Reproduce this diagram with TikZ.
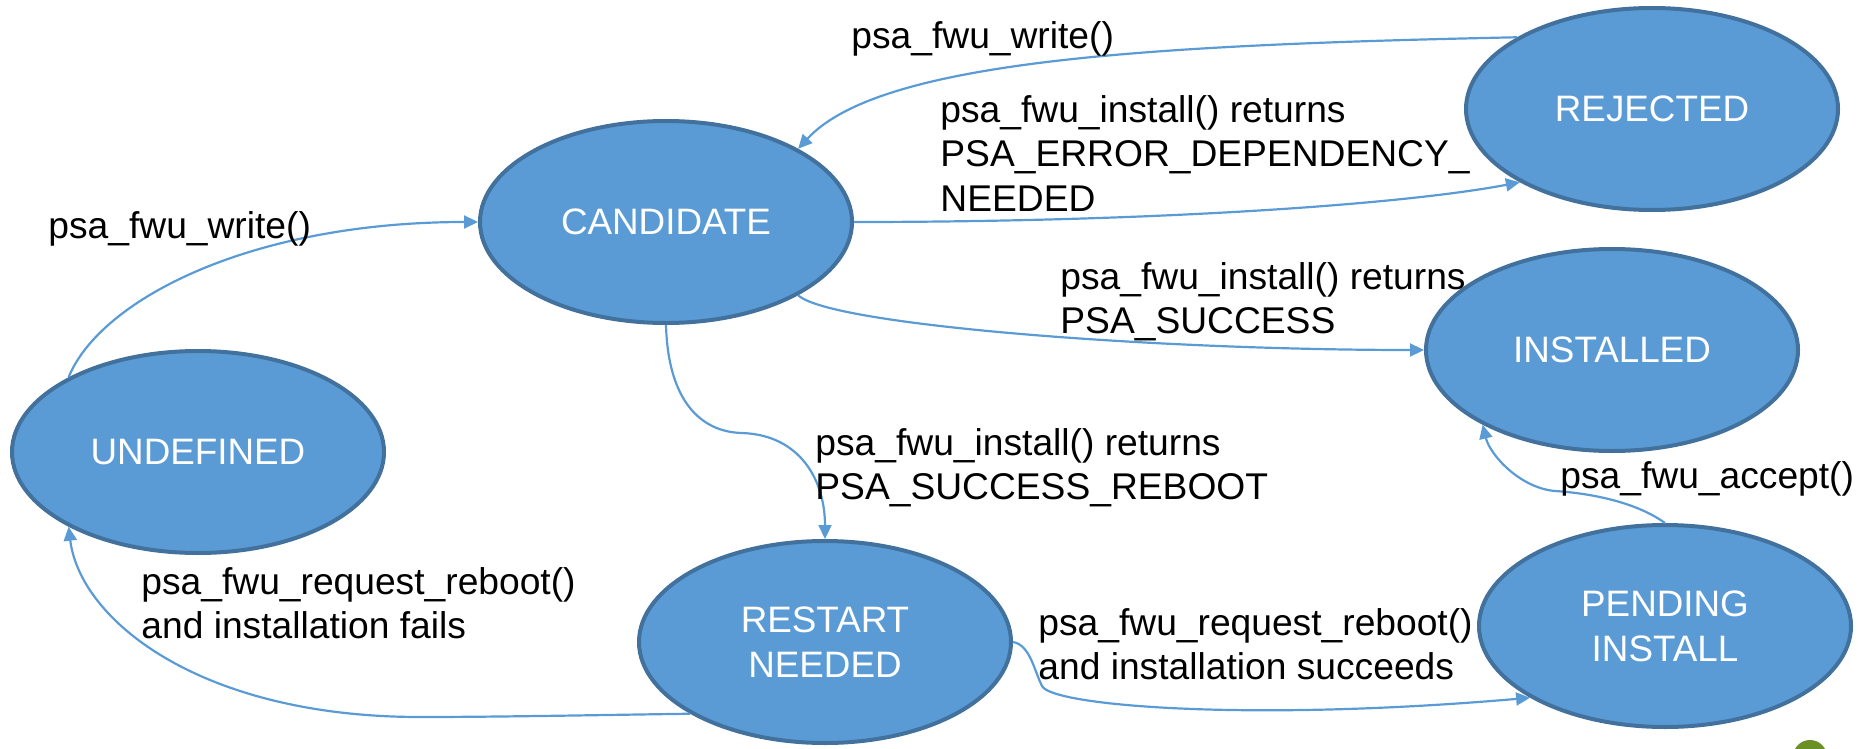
\documentclass[tikz,border=0pt]{standalone}
\usepackage{fontspec}
\setmainfont{Liberation Sans}
\usetikzlibrary{shapes.geometric,arrows.meta}
\definecolor{stateFill}{HTML}{5B9BD5}
\definecolor{stateEdge}{HTML}{41719C}
\definecolor{flow}{HTML}{5B9BD5}
\definecolor{badge}{RGB}{107,145,38}

\begin{document}
\begin{tikzpicture}[x=0.5pt,y=-0.5pt,
  state/.style={ellipse, draw=stateEdge, line width=2pt, fill=stateFill,
    text=white, minimum width=186pt, minimum height=101pt, inner sep=0pt,
    align=center, font=\fontsize{18.4pt}{22.5pt}\selectfont},
  trans/.style={draw=flow, line width=1.1pt,
    -{Triangle[length=7pt,width=6.5pt]}},
  lbl/.style={anchor=north west, inner sep=0pt, align=left,
    font=\fontsize{18.6pt}{22.25pt}\selectfont}
]
\useasboundingbox (0,0) rectangle (1858,749);

% states
\node[state] (cand)  at (666,222)  {CANDIDATE};
\node[state] (rej)   at (1652,109) {REJECTED};
\node[state] (inst)  at (1612,350) {INSTALLED};
\node[state] (pend)  at (1665,626) {PENDING\\INSTALL};
\node[state] (rest)  at (825,642)  {RESTART\\NEEDED};
\node[state] (undef) at (198,452)  {UNDEFINED};

% transitions
\draw[trans] (undef.150) .. controls (100,300) and (250,222) .. (cand.west);
\draw[trans] (cand.east) .. controls (1150,222) and (1400,205) .. (rej.209);
\draw[trans] (rej.152) .. controls (1150,45) and (880,60) .. (cand.29);
\draw[trans] (cand.-29) .. controls (830,325) and (1150,350) .. (inst.west);
\draw[trans] (cand.south) .. controls (668,400) and (700,432) .. (742,433)
  .. controls (800,435) and (825,480) .. (rest.north);
\draw[trans] (rest.208) .. controls (600,715) and (500,717) .. (420,717)
  .. controls (200,717) and (80,620) .. (undef.210);
\draw[trans] (rest.east) .. controls (1030,645) and (1034,670) .. (1042,686)
  .. controls (1052,706) and (1250,722) .. (pend.208);
\draw[trans] (pend.north) .. controls (1640,505) and (1600,494) .. (1555,491)
  .. controls (1520,488) and (1490,455) .. (inst.210);

% transition labels
\node[lbl] (lwrite)   at (48,211)   {psa\_fwu\_write()};
\node[lbl] (lrewrite) at (851,21)   {psa\_fwu\_write()};
\node[lbl] (ldep)     at (940,95)   {psa\_fwu\_install() returns\\PSA\_ERROR\_DEPENDENCY\_\\NEEDED};
\node[lbl] (lok)      at (1060,262) {psa\_fwu\_install() returns\\PSA\_SUCCESS};
\node[lbl] (lreboot)  at (815,428)  {psa\_fwu\_install() returns\\PSA\_SUCCESS\_REBOOT};
\node[lbl] (lfail)    at (141,567)  {psa\_fwu\_request\_reboot()\\and installation fails};
\node[lbl] (lsucc)    at (1038,608) {psa\_fwu\_request\_reboot()\\and installation succeeds};
\node[lbl] (laccept)  at (1560,461) {psa\_fwu\_accept()};

% corner badge
\fill[badge] (1810,757) circle[radius=8.5pt];
\end{tikzpicture}
\end{document}
